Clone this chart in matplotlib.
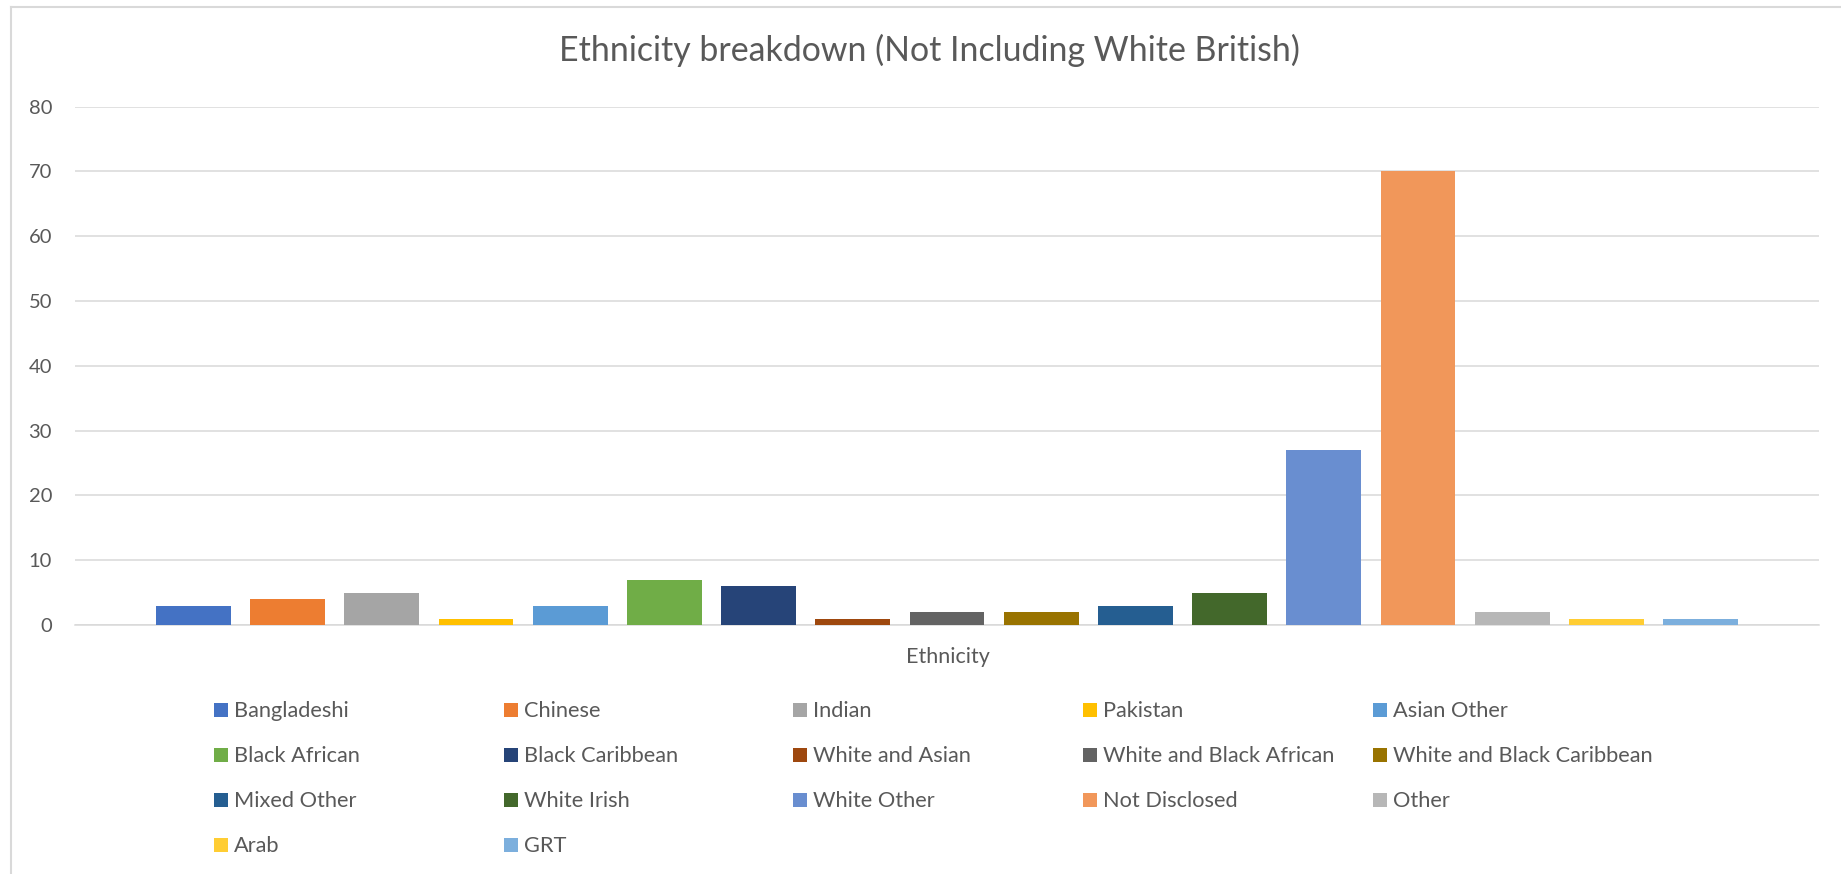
import matplotlib
matplotlib.use("Agg")
import matplotlib.pyplot as plt
from matplotlib.patches import Rectangle
from matplotlib.lines import Line2D
import numpy as np

# ---- data ----
categories = [
    "Bangladeshi", "Chinese", "Indian", "Pakistan", "Asian Other",
    "Black African", "Black Caribbean", "White and Asian", "White and Black African",
    "White and Black Caribbean", "Mixed Other", "White Irish", "White Other",
    "Not Disclosed", "Other", "Arab", "GRT",
]
counts = [3, 4, 5, 1, 3, 7, 6, 1, 2, 2, 3, 5, 27, 70, 2, 1, 1]
colors = [
    "#4472C4", "#ED7D31", "#A5A5A5", "#FFC000", "#5B9BD5",
    "#70AD47", "#264478", "#9E480E", "#636363", "#997300",
    "#255E91", "#43682B", "#698ED0", "#F1975A", "#B7B7B7",
    "#FFCD33", "#7CAFDD",
]
y_ticks = [0, 10, 20, 30, 40, 50, 60, 70, 80]
title = "Ethnicity breakdown (Not Including White British)"
x_title = "Ethnicity"

# ---- figure setup ----
W, H = 1841, 874
DPI = 100
FONT = "Lato"
TEXT_COLOR = "#595959"
GRID_COLOR = "#D9D9D9"

plt.rcParams["font.family"] = [FONT, "DejaVu Sans"]

fig = plt.figure(figsize=(W / DPI, H / DPI), dpi=DPI)
fig.patch.set_facecolor("white")


def fx(px):
    return px / W


def fy(py):
    return 1 - py / H


# chart-area border (left and top edges)
fig.add_artist(Line2D([fx(11), fx(11)], [fy(7), fy(H + 5)], color=GRID_COLOR,
                      lw=1.5, transform=fig.transFigure))
fig.add_artist(Line2D([fx(11), fx(W + 5)], [fy(7), fy(7)], color=GRID_COLOR,
                      lw=1.5, transform=fig.transFigure))

# plot area
left, right, top, bottom = 75, 1819, 106.6, 625
ax = fig.add_axes([fx(left), fy(bottom), fx(right - left), (bottom - top) / H])

x = np.arange(len(categories))
ax.bar(x, counts, width=0.796, color=colors, zorder=3)

ax.set_xlim(-1.257, len(categories) - 1 + 1.257)
ax.set_ylim(0, 80)
ax.set_yticks(y_ticks)
ax.set_yticklabels([str(t) for t in y_ticks])
ax.set_xticks([])
ax.tick_params(axis="y", length=0, pad=16.5, labelsize=14.5, labelcolor=TEXT_COLOR)
ax.yaxis.grid(True, color=GRID_COLOR, lw=1.1, zorder=0)
for s in ["left", "right", "top"]:
    ax.spines[s].set_visible(False)
ax.spines["bottom"].set_color(GRID_COLOR)
ax.spines["bottom"].set_linewidth(1.1)
ax.set_facecolor("none")

# titles
fig.text(fx(929), fy(61), title, ha="center", va="baseline",
         fontsize=24.4, color=TEXT_COLOR)
fig.text(fx(947.5), fy(663), x_title, ha="center", va="baseline",
         fontsize=15.5, color=TEXT_COLOR)

# legend laid out row by row, five equal-width columns
col0, col_pitch = 214, 289.7
row0, row_pitch = 717, 44.9
sw = 14
for i, (name, c) in enumerate(zip(categories, colors)):
    r, k = divmod(i, 5)
    mx = col0 + k * col_pitch
    base = row0 + r * row_pitch
    fig.add_artist(Rectangle((fx(mx), fy(base)), fx(sw), sw / H,
                             facecolor=c, edgecolor="none",
                             transform=fig.transFigure))
    fig.text(fx(mx + sw + 6), fy(base), name, ha="left", va="baseline",
             fontsize=15.7, color=TEXT_COLOR)

fig.savefig("out.png", dpi=DPI, facecolor="white")
